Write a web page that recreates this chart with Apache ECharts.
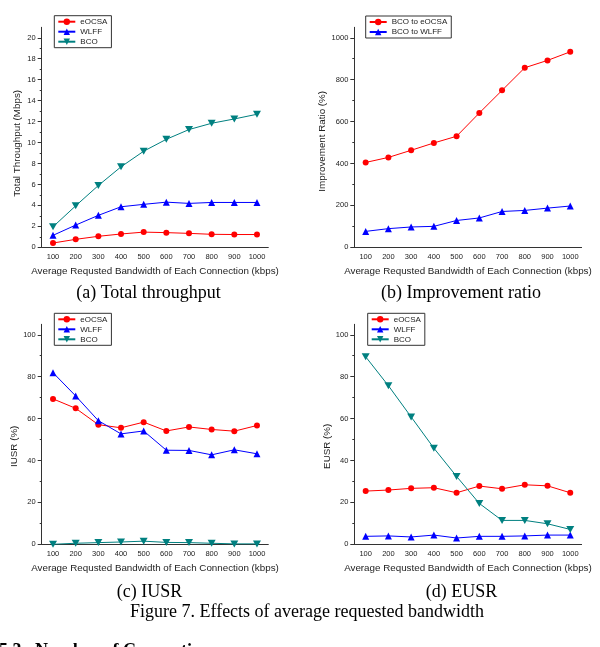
<!DOCTYPE html>
<html>
<head>
<meta charset="utf-8">
<script src="https://cdn.jsdelivr.net/npm/echarts@6/dist/echarts.min.js"></script>
<style>
  html, body { margin: 0; padding: 0; background: #fff; }
  #chart { width: 600px; height: 647px; }
</style>
</head>
<body>
<div id="chart"></div>
<script>
// x categories (kbps)
const bandwidth = ['100', '200', '300', '400', '500', '600', '700', '800', '900', '1000']

// (a) total throughput, Mbps
const thrEocsa = [0.41, 0.76, 1.05, 1.27, 1.45, 1.4, 1.33, 1.24, 1.22, 1.22]
const thrWlff = [1.14, 2.12, 3.05, 3.87, 4.1, 4.31, 4.19, 4.28, 4.28, 4.28]
const thrBco = [1.96, 3.96, 5.9, 7.68, 9.17, 10.31, 11.24, 11.84, 12.25, 12.7]

// (b) improvement ratio, %
const ratioEocsa = [405, 429, 463, 498, 530, 641, 749, 857, 892, 933]
const ratioWlff = [76, 89, 97, 100, 128, 140, 171, 176, 187, 197]

// (c) IUSR, %
const iusrEocsa = [69.4, 64.9, 57.1, 55.6, 58.3, 54.1, 56.0, 54.8, 54.0, 56.7]
const iusrWlff = [81.9, 70.8, 59.0, 52.7, 54.1, 44.9, 44.8, 42.7, 45.1, 43.2]
const iusrBco = [0.0, 0.5, 0.8, 1.1, 1.5, 0.9, 0.8, 0.5, 0.2, 0.2]

// (d) EUSR, %
const eusrEocsa = [25.4, 25.9, 26.7, 27.0, 24.6, 27.8, 26.5, 28.4, 27.9, 24.6]
const eusrWlff = [3.8, 4.0, 3.5, 4.4, 3.0, 3.8, 3.8, 4.0, 4.4, 4.4]
const eusrBco = [89.5, 75.7, 60.8, 45.9, 32.4, 19.5, 11.4, 11.4, 9.8, 7.1]

// y tick labels (major) and minor tick positions
const ticksThr = [0, 2, 4, 6, 8, 10, 12, 14, 16, 18, 20]
const minorThr = [1, 3, 5, 7, 9, 11, 13, 15, 17, 19]
const ticksRatio = [0, 200, 400, 600, 800, 1000]
const minorRatio = [100, 300, 500, 700, 900]
const ticksPct = [0, 20, 40, 60, 80, 100]
const minorPct = [10, 30, 50, 70, 90]

const SANS = 'Liberation Sans'
const SERIF = 'Liberation Serif'
const RED = '#ff0000'
const BLUE = '#0000ff'
const TEAL = '#008080'
const AXIS = '#333'
const DOWN_TRI = 'path://M0,0 L10,0 L5,9 Z'

// plot boxes: [left, top, width, height]
const boxes = [
  [41.7, 27.3, 226.6, 220],
  [354.3, 27.3, 227.3, 220],
  [41.7, 324.3, 226.6, 220],
  [354.3, 324.3, 227.3, 220],
]

const panels = [
  { yName: 'Total Throughput (Mbps)', max: 21, ticks: ticksThr, minor: minorThr, namePad: 12 },
  { yName: 'Improvement Ratio (%)', max: 1050, ticks: ticksRatio, minor: minorRatio, namePad: 8 },
  { yName: 'IUSR (%)', max: 105, ticks: ticksPct, minor: minorPct, namePad: 24 },
  { yName: 'EUSR (%)', max: 105, ticks: ticksPct, minor: minorPct, namePad: 24 },
]

const grid = boxes.map(b => ({ left: b[0], top: b[1], width: b[2], height: b[3] }))

const xAxis = boxes.map((b, i) => ({
  type: 'category',
  gridIndex: i,
  data: bandwidth,
  boundaryGap: true,
  name: 'Average Requsted Bandwidth of Each Connection (kbps)',
  nameLocation: 'middle',
  nameGap: 19,
  nameTextStyle: { fontFamily: SANS, fontSize: 9.8, color: '#222' },
  axisLine: { lineStyle: { color: AXIS, width: 1 } },
  axisTick: { alignWithLabel: true, length: 3, lineStyle: { color: AXIS } },
  axisLabel: { fontFamily: SANS, fontSize: 7.5, color: '#222', margin: 6, interval: 0 },
  splitLine: { show: false },
}))

// two y axes per panel: labelled major ticks, and a bare one for minor ticks
const yAxis = []
panels.forEach((p, i) => {
  yAxis.push({
    type: 'value',
    gridIndex: i,
    min: 0,
    max: p.max,
    name: p.yName,
    nameLocation: 'middle',
    nameGap: 19,
    nameTextStyle: { fontFamily: SANS, fontSize: 9.8, color: '#222', padding: [0, p.namePad, 0, 0] },
    axisLine: { show: true, lineStyle: { color: AXIS, width: 1 } },
    axisTick: { show: true, length: 4, customValues: p.ticks, lineStyle: { color: AXIS } },
    axisLabel: {
      fontFamily: SANS, fontSize: 7.5, color: '#222', margin: 6,
      customValues: p.ticks, formatter: v => String(v),
    },
    splitLine: { show: false },
  })
  yAxis.push({
    type: 'value',
    gridIndex: i,
    min: 0,
    max: p.max,
    position: 'left',
    axisLine: { show: false },
    axisTick: { show: true, length: 2, customValues: p.minor, lineStyle: { color: AXIS } },
    axisLabel: { show: false },
    splitLine: { show: false },
  })
})

function line(name, data, panel, color, symbol, size) {
  return {
    name,
    type: 'line',
    xAxisIndex: panel,
    yAxisIndex: panel * 2,
    data,
    symbol,
    symbolSize: size,
    color,
    lineStyle: { width: 1, color },
    itemStyle: { color },
    animation: false,
  }
}

const series = [
  line('eOCSA', thrEocsa, 0, RED, 'circle', 6),
  line('WLFF', thrWlff, 0, BLUE, 'triangle', 7),
  line('BCO', thrBco, 0, TEAL, DOWN_TRI, [8, 7]),
  line('BCO to eOCSA', ratioEocsa, 1, RED, 'circle', 6),
  line('BCO to WLFF', ratioWlff, 1, BLUE, 'triangle', 7),
  line('eOCSA', iusrEocsa, 2, RED, 'circle', 6),
  line('WLFF', iusrWlff, 2, BLUE, 'triangle', 7),
  line('BCO', iusrBco, 2, TEAL, DOWN_TRI, [8, 7]),
  line('eOCSA', eusrEocsa, 3, RED, 'circle', 6),
  line('WLFF', eusrWlff, 3, BLUE, 'triangle', 7),
  line('BCO', eusrBco, 3, TEAL, DOWN_TRI, [8, 7]),
]

function legendBox(left, top, names) {
  return {
    left, top,
    orient: 'vertical',
    data: names,
    itemWidth: 17,
    itemHeight: 8,
    itemGap: 2,
    padding: [2, 4, 2, 3],
    borderColor: '#333',
    borderWidth: 1,
    backgroundColor: '#fff',
    selectedMode: false,
    textStyle: { fontFamily: SANS, fontSize: 8, color: '#222' },
  }
}

const legend = [
  legendBox(54.3, 15.7, ['eOCSA', 'WLFF', 'BCO']),
  legendBox(365.7, 16, ['BCO to eOCSA', 'BCO to WLFF']),
  legendBox(54.3, 313.3, ['eOCSA', 'WLFF', 'BCO']),
  legendBox(367.7, 313.3, ['eOCSA', 'WLFF', 'BCO']),
]

function caption(x, y, text, weight) {
  return {
    type: 'text',
    x, y,
    style: {
      text,
      fontFamily: SERIF,
      fontSize: 18,
      fontWeight: weight || 'normal',
      fill: '#000',
      align: weight ? 'left' : 'center',
      verticalAlign: weight ? 'top' : 'middle',
    },
  }
}

const chart = echarts.init(document.getElementById('chart'))
chart.setOption({
  backgroundColor: '#fff',
  animation: false,
  grid,
  xAxis,
  yAxis,
  legend,
  series,
  graphic: [
    caption(148.5, 293, '(a) Total throughput'),
    caption(461, 293, '(b) Improvement ratio'),
    caption(149.5, 592.5, '(c) IUSR'),
    caption(461.6, 592.5, '(d) EUSR'),
    caption(307, 612.7, 'Figure 7. Effects of average requested bandwidth'),
    caption(-1, 642.5, '5.3   Number of Connections', 'bold'),
  ],
})
</script>
</body>
</html>
